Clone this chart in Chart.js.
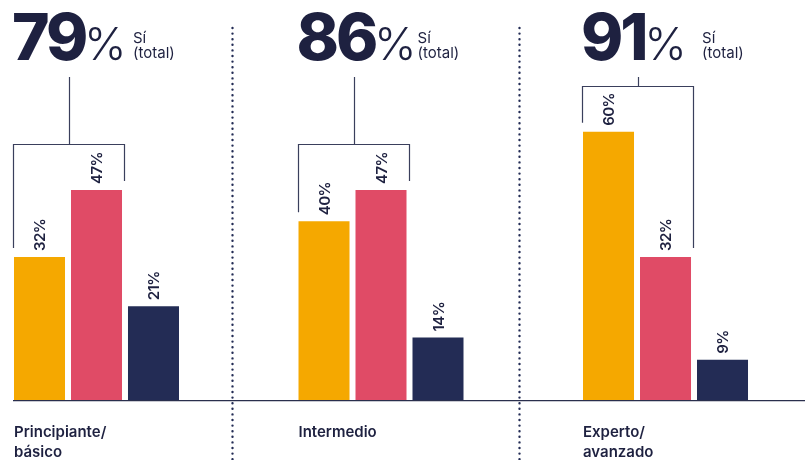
<!DOCTYPE html>
<html><head><meta charset="utf-8">
<script src="https://cdn.jsdelivr.net/npm/chart.js@4.4.0/dist/chart.umd.min.js"></script>
<style>html,body{margin:0;padding:0;background:#fff}#wrap{width:805px;height:460px;position:relative}</style>
</head><body><div id="wrap"><canvas id="c"></canvas></div>
<script>
// ---- data ----
const categories = [["Principiante/", "básico"], ["Intermedio"], ["Experto/", "avanzado"]];
const seriesNames = ["Serie 1", "Serie 2", "Serie 3"];
const series1 = [32, 40, 60];
const series2 = [47, 47, 32];
const series3 = [21, 14, 9];
const totals = [79, 86, 91];
const totalLabel = ["Sí", "(total)"];
const colors = ["#F5A800", "#E04B66", "#232C55"];

const TXT = "#1E2140";
const FONT = "Inter, 'Noto Sans', sans-serif";

const allSeries = [series1, series2, series3];

const overlay = {
  id: 'overlay',
  afterDatasetsDraw(chart) {
    const ctx = chart.ctx, xs = chart.scales.x, area = chart.chartArea;
    const m0 = chart.getDatasetMeta(0), m1 = chart.getDatasetMeta(1);
    ctx.save();
    // baseline
    ctx.strokeStyle = '#2a2f4d'; ctx.lineWidth = 1.3;
    ctx.beginPath(); ctx.moveTo(area.left, area.bottom + 0.6); ctx.lineTo(area.right, area.bottom + 0.6); ctx.stroke();
    // dotted dividers
    ctx.save();
    ctx.setLineDash([0, 5.6]); ctx.lineCap = 'round'; ctx.lineWidth = 2.4; ctx.strokeStyle = '#232C55';
    [0.478, 1.485].forEach(v => {
      const x = Math.round(xs.getPixelForValue(v)) + 0.5;
      ctx.beginPath(); ctx.moveTo(x, 28); ctx.lineTo(x, chart.height); ctx.stroke();
    });
    ctx.restore();

    // value labels
    ctx.fillStyle = TXT;
    ctx.font = "600 15px " + FONT;
    ctx.letterSpacing = '-0.6px';
    allSeries.forEach((s, d) => {
      const meta = chart.getDatasetMeta(d);
      s.forEach((v, i) => {
        const el = meta.data[i];
        ctx.save();
        ctx.translate(el.x, el.y - 6);
        ctx.rotate(-Math.PI / 2);
        ctx.textAlign = 'left'; ctx.textBaseline = 'middle';
        ctx.fillText(v + '%', 0, 1);
        ctx.restore();
      });
    });
    ctx.letterSpacing = '0px';

    categories.forEach((cat, i) => {
      const o = m0.data[i], r = m1.data[i];
      const left = o.x - o.width / 2;
      const right = r.x + r.width / 2;
      // bracket
      const top = Math.round(Math.min(o.y, r.y) - 46) + 0.5;
      const bl = Math.round(left - 1) + 0.5, br = Math.round(right + 2) + 0.5;
      ctx.strokeStyle = '#3a3f5c'; ctx.lineWidth = 1.2;
      ctx.beginPath();
      ctx.moveTo(bl, o.y - 9); ctx.lineTo(bl, top); ctx.lineTo(br, top); ctx.lineTo(br, r.y - 9);
      ctx.stroke();
      const mid = Math.round((bl + br) / 2) + 0.5;
      ctx.beginPath(); ctx.moveTo(mid, 77); ctx.lineTo(mid, top); ctx.stroke();

      // big total
      ctx.fillStyle = TXT;
      ctx.textAlign = 'left'; ctx.textBaseline = 'alphabetic';
      ctx.font = "800 64px " + FONT;
      ctx.letterSpacing = '-3px';
      ctx.fillText(String(totals[i]), left - 2, 60);
      const w = ctx.measureText(String(totals[i])).width;
      ctx.letterSpacing = '0px';
      ctx.font = "300 45px " + FONT;
      ctx.fillText('%', left - 2 + w - 1, 60);
      ctx.font = "400 15px " + FONT;
      ctx.fillText(totalLabel[0], left + 119, 43);
      ctx.fillText(totalLabel[1], left + 119, 58);

      // category label
      ctx.font = "600 15px " + FONT;
      cat.forEach((line, k) => ctx.fillText(line, left, 437 + k * 20));
    });
    ctx.restore();
  }
};

new Chart(document.getElementById('c'), {
  type: 'bar',
  data: {
    datasets: allSeries.map((s, d) => ({
      label: seriesNames[d],
      data: s.map((v, i) => ({ x: i, y: v })),
      backgroundColor: colors[d],
      borderWidth: 0,
      categoryPercentage: 0.601,
      barPercentage: 0.895
    }))
  },
  options: {
    responsive: true,
    maintainAspectRatio: false,
    animation: false,
    layout: { padding: { left: 13, right: 0, top: 0, bottom: 60 } },
    plugins: { legend: { display: false }, tooltip: { enabled: false } },
    scales: {
      x: {
        type: 'linear', min: -0.2935, max: 2.4903, display: false, offset: false,
        afterBuildTicks: (scale) => { scale.ticks = categories.map((c, i) => ({ value: i })); }
      },
      y: { min: 0, max: 89.5, display: false }
    }
  },
  plugins: [overlay]
});
</script>
</body></html>
